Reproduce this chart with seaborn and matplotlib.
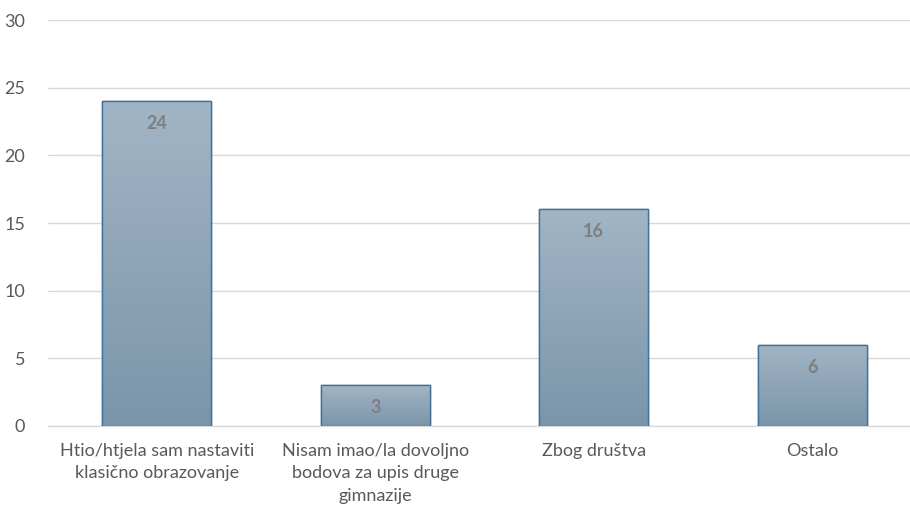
import numpy as np
import pandas as pd
import matplotlib
matplotlib.use("Agg")
import matplotlib.pyplot as plt
import seaborn as sns
from matplotlib.colors import LinearSegmentedColormap

categories = ["Htio/htjela sam nastaviti\nklasično obrazovanje",
              "Nisam imao/la dovoljno\nbodova za upis druge\ngimnazije",
              "Zbog društva",
              "Ostalo"]
values = [24, 3, 16, 6]
yticks = [0, 5, 10, 15, 20, 25, 30]

sns.set_theme(style="white")
plt.rcParams['font.family'] = ['Lato', 'DejaVu Sans']

df = pd.DataFrame({"cat": categories, "val": values})

fig = plt.figure(figsize=(9.1, 5.11), dpi=100)
ax = fig.add_axes([47.5 / 910, 1 - 426 / 511, (910 - 47.5) / 910, (426 - 20) / 511])

sns.barplot(data=df, x="cat", y="val", ax=ax, width=0.5, color="#8da3b6",
            edgecolor="#3f7199", linewidth=1.0, zorder=3)

cmap = LinearSegmentedColormap.from_list("g", ["#7a95aa", "#a2b5c5"])
grad = np.linspace(0, 1, 256).reshape(-1, 1)
for p in ax.patches:
    x0, y0 = p.get_x(), p.get_y()
    w, h = p.get_width(), p.get_height()
    im = ax.imshow(grad, cmap=cmap, aspect="auto", origin="lower",
                   extent=[x0, x0 + w, y0, y0 + h], zorder=3.5)
    im.set_clip_path(p)
    ax.add_patch(plt.Rectangle((x0, y0), w, h, fill=False,
                               edgecolor="#3f7199", linewidth=1.0, zorder=4))

for i, v in enumerate(values):
    ax.annotate(str(v), (i, v), xytext=(0, -16), textcoords="offset points",
                ha="center", va="center", fontsize=13, fontweight="bold",
                color="#7f7f7f", zorder=5)

ax.set_xlim(-0.5, 3.5 - (921.5 - 910) / 218.67)
ax.set_ylim(0, 30)
ax.set_yticks(yticks)
ax.yaxis.grid(True, color="#d9d9d9", linewidth=1.0, zorder=0)
ax.set_axisbelow(True)
for s in ["top", "right", "left"]:
    ax.spines[s].set_visible(False)
ax.spines["bottom"].set_color("#d9d9d9")
ax.spines["bottom"].set_linewidth(1.0)
ax.tick_params(axis="both", length=0, labelsize=13, colors="#595959")
ax.tick_params(axis="y", pad=16)
ax.tick_params(axis="x", pad=12)
for t in ax.get_xticklabels():
    t.set_linespacing(1.5)
ax.set_xlabel("")
ax.set_ylabel("")

fig.savefig("out.png", dpi=100)
